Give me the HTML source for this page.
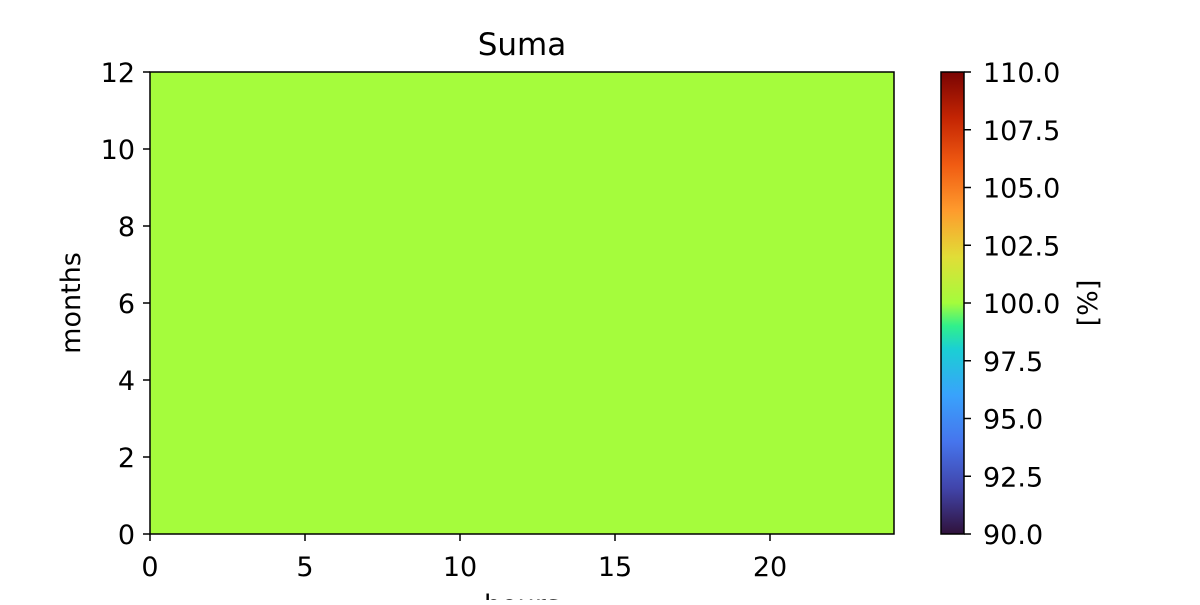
<!DOCTYPE html>
<html><head><meta charset="utf-8"><style>
html,body{margin:0;padding:0;background:#fff;}
svg text{font-family:"DejaVu Sans","Liberation Sans",sans-serif;fill:#000;}
</style></head><body>
<svg id="chart" width="1200" height="600" viewBox="0 0 1200 600" xmlns="http://www.w3.org/2000/svg">
<defs>
<linearGradient id="turbo" x1="0" y1="1" x2="0" y2="0">
<stop offset="0" stop-color="#30123b"/>
<stop offset="0.1" stop-color="#4145ab"/>
<stop offset="0.2" stop-color="#4675ed"/>
<stop offset="0.3" stop-color="#39a2fc"/>
<stop offset="0.4" stop-color="#1bcfd4"/>
<stop offset="0.45" stop-color="#30f08c"/>
<stop offset="0.5" stop-color="#a4fc3c"/>
<stop offset="0.6" stop-color="#e1dd37"/>
<stop offset="0.7" stop-color="#fe9b2d"/>
<stop offset="0.8" stop-color="#f05b12"/>
<stop offset="0.9" stop-color="#c42503"/>
<stop offset="1" stop-color="#7a0403"/>
</linearGradient>
</defs>
<g id="cells"></g>
<rect x="150" y="72" width="744" height="462" fill="none" stroke="#000" stroke-width="1.5"/>
<g id="axes"></g>
<text x="522" y="55" font-size="31" text-anchor="middle">Suma</text>
<text x="522" y="614" font-size="27" text-anchor="middle">hours</text>
<text transform="translate(80,303) rotate(-90)" font-size="27" text-anchor="middle">months</text>
<rect x="941" y="72" width="23" height="462" fill="url(#turbo)" stroke="#000" stroke-width="1.5"/>
<g id="cbar"></g>
<text transform="translate(1097,303) rotate(-90)" font-size="27" text-anchor="middle">[%]</text>
</svg>
<script>
const hours = Array.from({length:24},(_,i)=>i);
const months = Array.from({length:12},(_,i)=>i);
const values = [
[100,100,100,100,100,100,100,100,100,100,100,100,100,100,100,100,100,100,100,100,100,100,100,100],
[100,100,100,100,100,100,100,100,100,100,100,100,100,100,100,100,100,100,100,100,100,100,100,100],
[100,100,100,100,100,100,100,100,100,100,100,100,100,100,100,100,100,100,100,100,100,100,100,100],
[100,100,100,100,100,100,100,100,100,100,100,100,100,100,100,100,100,100,100,100,100,100,100,100],
[100,100,100,100,100,100,100,100,100,100,100,100,100,100,100,100,100,100,100,100,100,100,100,100],
[100,100,100,100,100,100,100,100,100,100,100,100,100,100,100,100,100,100,100,100,100,100,100,100],
[100,100,100,100,100,100,100,100,100,100,100,100,100,100,100,100,100,100,100,100,100,100,100,100],
[100,100,100,100,100,100,100,100,100,100,100,100,100,100,100,100,100,100,100,100,100,100,100,100],
[100,100,100,100,100,100,100,100,100,100,100,100,100,100,100,100,100,100,100,100,100,100,100,100],
[100,100,100,100,100,100,100,100,100,100,100,100,100,100,100,100,100,100,100,100,100,100,100,100],
[100,100,100,100,100,100,100,100,100,100,100,100,100,100,100,100,100,100,100,100,100,100,100,100],
[100,100,100,100,100,100,100,100,100,100,100,100,100,100,100,100,100,100,100,100,100,100,100,100]
];
const xTicks = [0,5,10,15,20];
const yTicks = [0,2,4,6,8,10,12];
const cTicks = [90,92.5,95,97.5,100,102.5,105,107.5,110];
const cTickLabels = ["90.0","92.5","95.0","97.5","100.0","102.5","105.0","107.5","110.0"];
const vmin = 90, vmax = 110;

const NS="http://www.w3.org/2000/svg";
const X = h => 150 + h*744/24;
const Y = m => 534 - m*462/12;
const C = v => 534 - (v-vmin)/(vmax-vmin)*462;
const stops=[[0,[48,18,59]],[0.1,[65,69,171]],[0.2,[70,117,237]],[0.3,[57,162,252]],[0.4,[27,207,212]],[0.45,[48,240,140]],[0.5,[165,252,60]],[0.6,[225,221,55]],[0.7,[254,155,45]],[0.8,[240,91,18]],[0.9,[196,37,3]],[1,[122,4,3]]];
function color(v){
  let t=Math.max(0,Math.min(1,(v-vmin)/(vmax-vmin)));
  for(let i=1;i<stops.length;i++){
    if(t<=stops[i][0]){
      const a=stops[i-1],b=stops[i],f=(t-a[0])/(b[0]-a[0]);
      const c=a[1].map((x,k)=>Math.round(x+(b[1][k]-x)*f));
      return `rgb(${c[0]},${c[1]},${c[2]})`;
    }
  }
  return 'rgb(122,4,3)';
}
function mk(tag,attrs,parent){const e=document.createElementNS(NS,tag);for(const k in attrs)e.setAttribute(k,attrs[k]);parent.appendChild(e);return e;}
const cells=document.getElementById('cells');
months.forEach((m,mi)=>hours.forEach((h,hi)=>{
  const r=mk('rect',{x:X(h),y:Y(m+1),width:X(h+1)-X(h)+0.5,height:Y(m)-Y(m+1)+0.5,fill:color(values[mi][hi])},cells);
  
  
}));
const axes=document.getElementById('axes');
xTicks.forEach(t=>{
  const l=mk('line',{x1:X(t),x2:X(t),y1:534,y2:541,stroke:'#000','stroke-width':1.5},axes);
  
  
  const tx=mk('text',{x:X(t),y:576,'font-size':27,'text-anchor':'middle'},axes);
  tx.textContent=t;
  
  
});
yTicks.forEach(t=>{
  const l=mk('line',{x1:143,x2:150,y1:Y(t),y2:Y(t),stroke:'#000','stroke-width':1.5},axes);
  
  
  const tx=mk('text',{x:135,y:Y(t)+10,'font-size':27,'text-anchor':'end'},axes);
  tx.textContent=t;
  
  
});
const cb=document.getElementById('cbar');
cTicks.forEach((t,i)=>{
  const l=mk('line',{x1:964,x2:971,y1:C(t),y2:C(t),stroke:'#000','stroke-width':1.5},cb);
  
  
  const tx=mk('text',{x:983,y:C(t)+10,'font-size':27},cb);
  tx.textContent=cTickLabels[i];
  
  
});
</script>
</body></html>
